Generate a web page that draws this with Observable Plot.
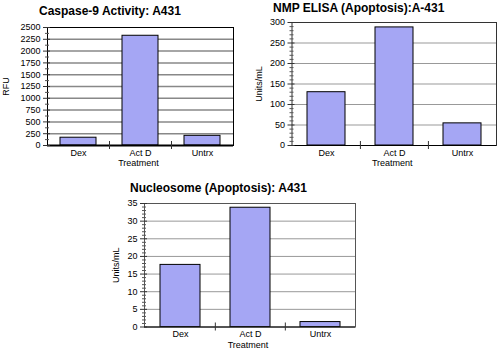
<!DOCTYPE html>
<html><head><meta charset="utf-8">
<script src="https://cdn.jsdelivr.net/npm/d3@7"></script>
<script src="https://cdn.jsdelivr.net/npm/@observablehq/plot@0.6"></script>
<style>
body{margin:0;background:#fff}
#wrap{position:relative;width:499px;height:351px;overflow:hidden;background:#fff;font-family:"Liberation Sans",Arial,sans-serif}
.t{position:absolute;font-weight:bold;font-size:12px;line-height:14px;white-space:nowrap;color:#000;font-family:"Liberation Sans",Arial,sans-serif}
.c{position:absolute}
</style>
</head><body>
<div id="wrap">
  <div class="t" style="left:39px;top:4px">Caspase-9 Activity: A431</div>
  <div class="t" style="left:273px;top:1px">NMP ELISA (Apoptosis):A-431</div>
  <div class="t" style="left:130px;top:181px">Nucleosome (Apoptosis): A431</div>
  <div class="c" id="c1" style="left:0px;top:0px"></div>
  <div class="c" id="c2" style="left:250px;top:0px"></div>
  <div class="c" id="c3" style="left:100px;top:175px"></div>
</div>
<script>
const categories = ["Dex", "Act D", "Untrx"];
const caspaseValues = [165, 2325, 205];
const nmpValues = [130, 288, 54];
const nucleosomeValues = [17.6, 33.8, 1.4];
const caspaseTicks = [0, 250, 500, 750, 1000, 1250, 1500, 1750, 2000, 2250, 2500];
const nmpTicks = [0, 50, 100, 150, 200, 250, 300];
const nucleosomeTicks = [0, 5, 10, 15, 20, 25, 30, 35];
const xLabel = "Treatment";

function chart(o) {
  const data = categories.map((c, i) => ({cat: c, v: o.values[i]}));
  const fw = o.width - o.ml - o.mr;
  const step = fw / categories.length;
  const minor = d3.range(0, o.domain[1] + 1e-9, o.minorStep).filter(v => !o.ticks.some(t => Math.abs(t - v) < 1e-9));
  return Plot.plot({
    width: o.width, height: o.height,
    marginLeft: o.ml, marginRight: o.mr, marginTop: o.mt, marginBottom: o.mb,
    style: {fontSize: "9px", fontFamily: "'Liberation Sans', Arial, sans-serif", background: "transparent", color: "#000", overflow: "visible"},
    x: {domain: categories, padding: 0},
    y: {domain: o.domain},
    marks: [
      Plot.gridY(o.ticks.filter(t => t > 0 && t < o.domain[1]), {stroke: o.gridColor, strokeOpacity: 1, strokeWidth: o.gridWidth}),
      Plot.barY(data, {x: "cat", y: "v", fill: "#a5a6f4", stroke: "#000", strokeWidth: 1, insetLeft: o.inset, insetRight: o.inset}),
      Plot.frame({stroke: o.frameColor, strokeWidth: 1}),
      Plot.ruleY([0], {stroke: "#000", strokeWidth: o.baseWidth}),
      Plot.ruleY(o.ticks, {stroke: "#333", insetLeft: -4, insetRight: fw - 3}),
      Plot.ruleY(minor, {stroke: "#555", insetLeft: -2, insetRight: fw - 2}),
      Plot.ruleX(categories.slice(1), {x: d => d, dx: -step / 2, y1: 0, y2: 0, insetTop: -4, insetBottom: -4, stroke: "#333"}),
      Plot.axisY({ticks: o.ticks, tickSize: 0, tickPadding: 7, tickFormat: d => String(d), label: null}),
      Plot.axisX({tickSize: 0, tickPadding: 4, label: null}),
      Plot.text([o.yLabel], {frameAnchor: "left", textAnchor: "middle", lineAnchor: "middle", dx: o.yLabelDx, rotate: -90, fontSize: 9}),
      Plot.text([xLabel], {frameAnchor: "bottom", textAnchor: "middle", lineAnchor: "middle", dy: 18, dx: o.xLabelDx, fontSize: 9})
    ]
  });
}

document.getElementById("c1").appendChild(chart({
  values: caspaseValues, width: 250, height: 175, ml: 47, mr: 17, mt: 27, mb: 30,
  domain: [0, 2500], ticks: caspaseTicks, minorStep: 125, inset: 13,
  gridColor: "#888", gridWidth: 1.5, frameColor: "#000", baseWidth: 2,
  yLabel: "RFU", yLabelDx: -41, xLabelDx: -2
}));
document.getElementById("c2").appendChild(chart({
  values: nmpValues, width: 249, height: 175, ml: 41.5, mr: 3, mt: 22, mb: 30,
  domain: [0, 300], ticks: nmpTicks, minorStep: 10, inset: 15,
  gridColor: "#999", gridWidth: 1, frameColor: "#333", baseWidth: 1.2,
  yLabel: "Units/mL", yLabelDx: -33, xLabelDx: -2
}));
document.getElementById("c3").appendChild(chart({
  values: nucleosomeValues, width: 300, height: 176, ml: 44, mr: 45, mt: 28, mb: 24.5,
  domain: [0, 35], ticks: nucleosomeTicks, minorStep: 1, inset: 15,
  gridColor: "#999", gridWidth: 1, frameColor: "#555", baseWidth: 1.2,
  yLabel: "Units/mL", yLabelDx: -28, xLabelDx: -2
}));
</script>
</body></html>
